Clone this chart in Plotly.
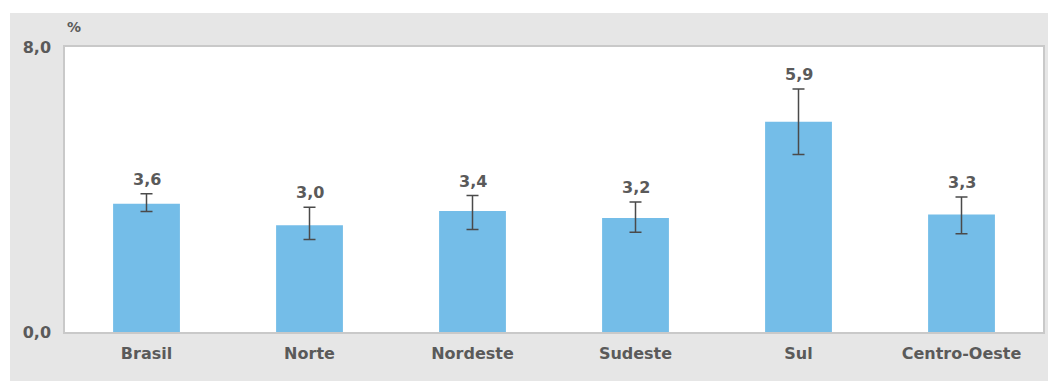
import plotly.graph_objects as go

regions = ["Brasil", "Norte", "Nordeste", "Sudeste", "Sul", "Centro-Oeste"]
values = [3.6, 3.0, 3.4, 3.2, 5.9, 3.3]
err_plus = [0.28, 0.50, 0.43, 0.45, 0.92, 0.49]
err_minus = [0.22, 0.40, 0.52, 0.40, 0.92, 0.54]
value_labels = ["3,6", "3,0", "3,4", "3,2", "5,9", "3,3"]
y_ticks = [0, 8]
y_tick_text = ["0,0", "8,0"]

FONT = "DejaVu Sans"
TXT = "#5a5a5a"

fig = go.Figure()
fig.add_trace(go.Bar(
    x=regions, y=values,
    marker=dict(color="#74BDE8", line=dict(width=0)),
    error_y=dict(type="data", symmetric=False, array=err_plus, arrayminus=err_minus,
                 color="#4a4a4a", thickness=1.5, width=6),
    width=0.41,
    hoverinfo="skip",
))

for r, v, p, lab in zip(regions, values, err_plus, value_labels):
    fig.add_annotation(x=r, y=v + p, text="<b>" + lab + "</b>", showarrow=False, yanchor="bottom",
                       yshift=3, font=dict(family=FONT, size=16, color=TXT))

fig.add_annotation(xref="paper", yref="paper", x=0.009, y=1.07, text="<b>%</b>", showarrow=False,
                   xanchor="center", yanchor="middle", font=dict(family=FONT, size=14, color=TXT))

# gray panel and white plot area
fig.add_shape(type="rect", xref="paper", yref="paper", x0=-0.0562, x1=1.0123, y0=-0.25, y1=1.119,
              fillcolor="#E6E6E6", line=dict(width=0), layer="below")
fig.add_shape(type="rect", xref="paper", yref="paper", x0=0, x1=1, y0=0, y1=1,
              fillcolor="white", line=dict(width=0), layer="below")

fig.update_layout(
    width=1048, height=373,
    margin=dict(l=57, r=13, t=39, b=49),
    paper_bgcolor="white", plot_bgcolor="white",
    showlegend=False,
    font=dict(family=FONT, size=16, color=TXT),
    bargap=0.59,
)
fig.update_xaxes(showline=True, linecolor="#C9C9C9", linewidth=1.5, mirror=True,
                 ticks="", showgrid=False, tickprefix="<b>", ticksuffix="</b>",
                 ticklabelstandoff=6, tickfont=dict(family=FONT, size=16, color=TXT))
fig.update_yaxes(range=[0, 8], tickvals=y_ticks, ticktext=["<b>" + t + "</b>" for t in y_tick_text],
                 showgrid=False, zeroline=False, showline=True, linecolor="#C9C9C9", linewidth=1.5,
                 mirror=True, ticks="", ticklabelstandoff=9, tickfont=dict(family=FONT, size=16, color=TXT))

fig.write_html("out.html")
